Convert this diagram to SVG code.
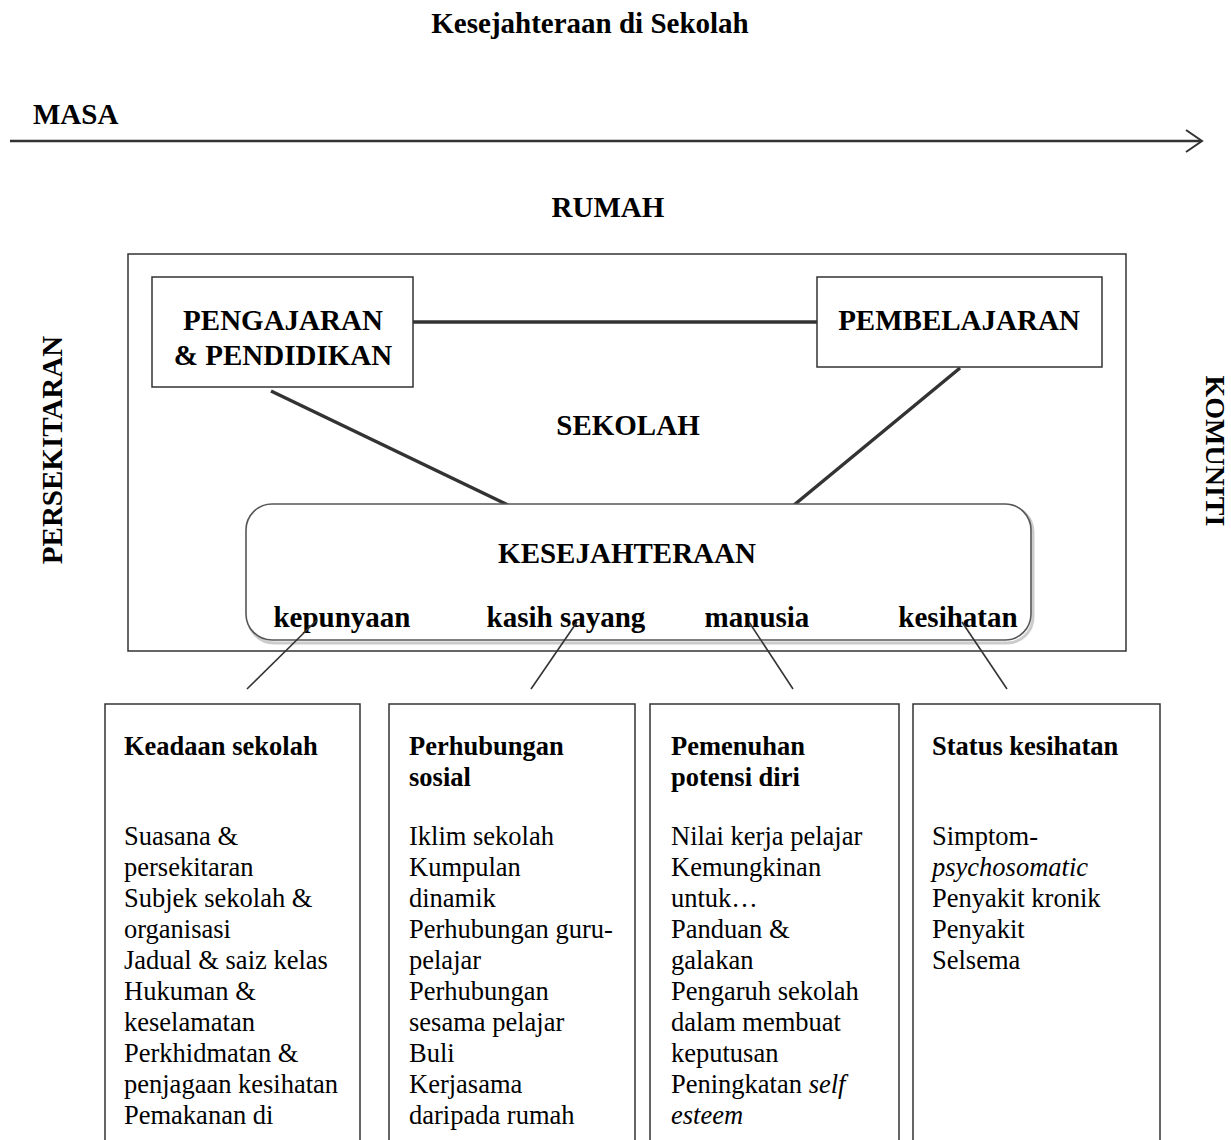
<svg xmlns="http://www.w3.org/2000/svg" width="1231" height="1140" viewBox="0 0 1231 1140">
  <style>
    .t { font-family: "Liberation Serif", "Times New Roman", serif; fill: #000; }
    .b { font-weight: bold; }
    .big { font-size: 29px; }
    .body { font-size: 26.5px; }
    .box { fill: #fff; stroke: #333; stroke-width: 1.5; }
    .thick { stroke: #333; stroke-width: 3.5; fill: none; }
    .thin { stroke: #333; stroke-width: 1.6; fill: none; }
  </style>
  <rect width="1231" height="1140" fill="#fff"/>

  <g id="title">
    <text class="t b big" x="590" y="33" text-anchor="middle">Kesejahteraan di Sekolah</text>
  </g>

  <g id="masa">
    <text class="t b big" x="33" y="124">MASA</text>
    <line x1="10" y1="141" x2="1201" y2="141" stroke="#333" stroke-width="2.5"/>
    <polyline points="1186,130 1202,141 1186,152" fill="none" stroke="#333" stroke-width="2"/>
  </g>

  <g id="rumah">
    <text class="t b big" x="608" y="217" text-anchor="middle">RUMAH</text>
  </g>

  <g id="persekitaran">
    <text class="t b big" transform="translate(62,450) rotate(-90)" text-anchor="middle">PERSEKITARAN</text>
  </g>

  <g id="komuniti">
    <text class="t b big" transform="translate(1206,451) rotate(90)" text-anchor="middle" style="font-size:28px">KOMUNITI</text>
  </g>

  <g id="sekolah">
    <rect class="box" x="128" y="254" width="998" height="397" fill="none"/>
    <text class="t b big" x="628" y="435" text-anchor="middle">SEKOLAH</text>
  </g>

  <g id="connectors">
    <line class="thick" x1="413" y1="322" x2="817" y2="322"/>
    <line class="thick" x1="271" y1="391" x2="508" y2="505"/>
    <line class="thick" x1="960" y1="368" x2="794" y2="505"/>
  </g>

  <g id="pengajaran">
    <rect class="box" x="152" y="277" width="261" height="110"/>
    <text class="t b big" x="283" y="330" text-anchor="middle">PENGAJARAN</text>
    <text class="t b big" x="283" y="365" text-anchor="middle">&amp; PENDIDIKAN</text>
  </g>

  <g id="pembelajaran">
    <rect class="box" x="817" y="277" width="285" height="90"/>
    <text class="t b big" x="959" y="330" text-anchor="middle">PEMBELAJARAN</text>
  </g>

  <g id="kesejahteraan">
    <rect x="248" y="506" width="785" height="137" rx="26" ry="26" fill="none" stroke="#ccc" stroke-width="3"/>
    <rect x="246" y="504" width="785" height="136" rx="26" ry="26" fill="#fff" stroke="#555" stroke-width="1.6"/>
    <text class="t b big" x="627" y="563" text-anchor="middle">KESEJAHTERAAN</text>
    <text class="t b big" x="342" y="627" text-anchor="middle">kepunyaan</text>
    <text class="t b big" x="566" y="627" text-anchor="middle">kasih sayang</text>
    <text class="t b big" x="757" y="627" text-anchor="middle">manusia</text>
    <text class="t b big" x="958" y="627" text-anchor="middle">kesihatan</text>
  </g>

  <g id="label-connectors">
    <line class="thin" x1="317" y1="620" x2="247" y2="689"/>
    <line class="thin" x1="577" y1="622" x2="531" y2="689"/>
    <line class="thin" x1="749" y1="622" x2="793" y2="689"/>
    <line class="thin" x1="962" y1="622" x2="1007" y2="689"/>
  </g>

  <g id="keadaan-sekolah">
    <rect class="box" x="105" y="704" width="255" height="450"/>
    <text class="t b body" x="124" y="755">Keadaan sekolah</text>
    <text class="t body" x="124" y="845">
      <tspan x="124" dy="0">Suasana &amp;</tspan>
      <tspan x="124" dy="31">persekitaran</tspan>
      <tspan x="124" dy="31">Subjek sekolah &amp;</tspan>
      <tspan x="124" dy="31">organisasi</tspan>
      <tspan x="124" dy="31">Jadual &amp; saiz kelas</tspan>
      <tspan x="124" dy="31">Hukuman &amp;</tspan>
      <tspan x="124" dy="31">keselamatan</tspan>
      <tspan x="124" dy="31">Perkhidmatan &amp;</tspan>
      <tspan x="124" dy="31">penjagaan kesihatan</tspan>
      <tspan x="124" dy="31">Pemakanan di</tspan>
    </text>
  </g>

  <g id="perhubungan-sosial">
    <rect class="box" x="389" y="704" width="246" height="450"/>
    <text class="t b body" x="409" y="755">Perhubungan</text>
    <text class="t b body" x="409" y="786">sosial</text>
    <text class="t body" x="409" y="845">
      <tspan x="409" dy="0">Iklim sekolah</tspan>
      <tspan x="409" dy="31">Kumpulan</tspan>
      <tspan x="409" dy="31">dinamik</tspan>
      <tspan x="409" dy="31">Perhubungan guru-</tspan>
      <tspan x="409" dy="31">pelajar</tspan>
      <tspan x="409" dy="31">Perhubungan</tspan>
      <tspan x="409" dy="31">sesama pelajar</tspan>
      <tspan x="409" dy="31">Buli</tspan>
      <tspan x="409" dy="31">Kerjasama</tspan>
      <tspan x="409" dy="31">daripada rumah</tspan>
    </text>
  </g>

  <g id="pemenuhan-potensi">
    <rect class="box" x="650" y="704" width="249" height="450"/>
    <text class="t b body" x="671" y="755">Pemenuhan</text>
    <text class="t b body" x="671" y="786">potensi diri</text>
    <text class="t body" x="671" y="845">
      <tspan x="671" dy="0">Nilai kerja pelajar</tspan>
      <tspan x="671" dy="31">Kemungkinan</tspan>
      <tspan x="671" dy="31">untuk…</tspan>
      <tspan x="671" dy="31">Panduan &amp;</tspan>
      <tspan x="671" dy="31">galakan</tspan>
      <tspan x="671" dy="31">Pengaruh sekolah</tspan>
      <tspan x="671" dy="31">dalam membuat</tspan>
      <tspan x="671" dy="31">keputusan</tspan>
      <tspan x="671" dy="31">Peningkatan <tspan font-style="italic">self</tspan></tspan>
      <tspan x="671" dy="31" font-style="italic">esteem</tspan>
    </text>
  </g>

  <g id="status-kesihatan">
    <rect class="box" x="913" y="704" width="247" height="450"/>
    <text class="t b body" x="932" y="755">Status kesihatan</text>
    <text class="t body" x="932" y="845">
      <tspan x="932" dy="0">Simptom-</tspan>
      <tspan x="932" dy="31" font-style="italic">psychosomatic</tspan>
      <tspan x="932" dy="31">Penyakit kronik</tspan>
      <tspan x="932" dy="31">Penyakit</tspan>
      <tspan x="932" dy="31">Selsema</tspan>
    </text>
  </g>
</svg>
